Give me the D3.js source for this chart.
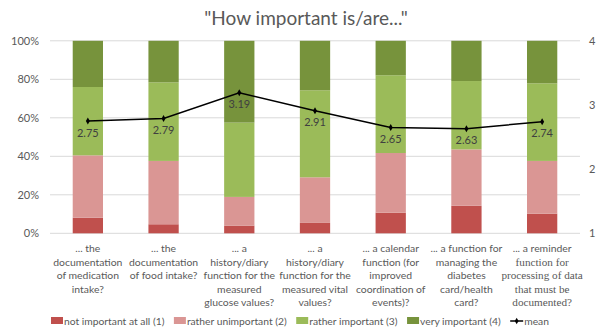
<!DOCTYPE html>
<html><head><meta charset="utf-8">
<script src="https://cdn.jsdelivr.net/npm/d3@7"></script>
<style>body{margin:0;background:#fff}svg{display:block}</style>
</head><body>
<svg id="c" width="601" height="330"></svg>
<script>
const title = '"How important is/are..."';
const categories = [
  ["... the","documentation","of medication","intake?"],
  ["... the","documentation","of food intake?"],
  ["... a","history/diary","function for the","measured","glucose values?"],
  ["... a","history/diary","function for the","measured vital","values?"],
  ["... a calendar","function (for","improved","coordination of","events)?"],
  ["... a function for","managing the","diabetes","card/health","card?"],
  ["... a reminder","function for","processing of data","that must be","documented?"]
];
const seriesNames = ["not important at all (1)","rather unimportant (2)","rather important (3)","very important (4)"];
const notImportant = [8.1, 4.7, 4.0, 5.4, 10.7, 14.3, 10.2];
const ratherUnimportant = [32.4, 32.9, 14.9, 23.7, 31.0, 29.3, 27.4];
const ratherImportant = [35.5, 40.8, 38.6, 45.2, 40.4, 35.5, 40.3];
const veryImportant = [24.0, 21.6, 42.5, 25.7, 17.9, 20.9, 22.1];
const meanValues = [2.75, 2.79, 3.19, 2.91, 2.65, 2.63, 2.74];
const leftTicks = [0, 20, 40, 60, 80, 100];
const rightTicks = [1, 2, 3, 4];
const colors = ["#C0504D","#DA9694","#9BBB59","#77933C"];

const svg = d3.select("#c");
const font = "Lato, 'Open Sans', sans-serif";
const textColor = "#595959";
const pLeft = 50, pRight = 580, pTop = 40.8, pBottom = 233.3;

const x = d3.scaleBand().domain(d3.range(categories.length)).range([pLeft, pRight]).paddingInner(0.6).paddingOuter(0.3);
const y = d3.scaleLinear().domain([0, 100]).range([pBottom, pTop]);
const y2 = d3.scaleLinear().domain([1, 4]).range([pBottom, pTop]);

// title
svg.append("text").attr("x", 306).attr("y", 25).attr("text-anchor", "middle")
  .attr("font-family", font).attr("font-size", 19).attr("fill", textColor).text(title);

// gridlines
svg.append("g").selectAll("line").data(leftTicks).join("line")
  .attr("x1", pLeft).attr("x2", pRight).attr("y1", d => y(d)).attr("y2", d => y(d))
  .attr("stroke", "#D9D9D9").attr("stroke-width", 1);

// left axis
const la = svg.append("g").attr("transform", `translate(${pLeft - 11},0)`)
  .call(d3.axisLeft(y).tickValues(leftTicks).tickFormat(d => d + "%").tickSize(0).tickPadding(0));
la.select(".domain").remove();
la.selectAll("text").attr("font-family", font).attr("font-size", 11).attr("fill", textColor);

// right axis
const ra = svg.append("g").attr("transform", `translate(${pRight + 9},0)`)
  .call(d3.axisRight(y2).tickValues(rightTicks).tickFormat(d3.format("d")).tickSize(0).tickPadding(0));
ra.select(".domain").remove();
ra.selectAll("text").attr("font-family", font).attr("font-size", 11).attr("fill", textColor);

// stacked bars
const rows = categories.map((c, i) => ({i, v0: notImportant[i], v1: ratherUnimportant[i], v2: ratherImportant[i], v3: veryImportant[i]}));
const stack = d3.stack().keys(["v0","v1","v2","v3"])(rows);
svg.append("g").selectAll("g").data(stack).join("g").attr("fill", (d, k) => colors[k])
  .selectAll("rect").data(d => d).join("rect")
  .attr("x", d => x(d.data.i)).attr("width", x.bandwidth())
  .attr("y", d => y(Math.min(100, d[1]))).attr("height", d => y(d[0]) - y(Math.min(100, d[1])));

// mean line
const cx = i => x(i) + x.bandwidth() / 2;
svg.append("path").datum(meanValues)
  .attr("d", d3.line().x((d, i) => cx(i)).y(d => y2(d)))
  .attr("fill", "none").attr("stroke", "#000").attr("stroke-width", 1.5);
svg.append("g").selectAll("path").data(meanValues).join("path")
  .attr("d", d3.symbol().type(d3.symbolDiamond).size(14))
  .attr("transform", (d, i) => `translate(${cx(i)},${y2(d)})`).attr("fill", "#000");
svg.append("g").selectAll("text").data(meanValues).join("text")
  .attr("x", (d, i) => cx(i)).attr("y", d => y2(d) + 15.5).attr("text-anchor", "middle")
  .attr("font-family", font).attr("font-size", 11).attr("fill", "#404040").text(d => d3.format(".2f")(d));

// category labels
const cl = svg.append("g");
categories.forEach((lines, i) => {
  const t = cl.append("text").attr("text-anchor", "middle").attr("fill", textColor);
  lines.forEach((ln, j) => {
    const serif = (i === 6 && j > 0);
    t.append("tspan").attr("x", cx(i)).attr("y", 252 + j * 13.6)
      .attr("font-family", serif ? "'Liberation Serif', 'DejaVu Serif', serif" : font)
      .attr("font-size", serif ? 11.2 : 10.4).text(ln);
  });
});

// legend
const lg = svg.append("g");
let lx = 51;
const ly = 321;
seriesNames.forEach((n, k) => {
  lg.append("rect").attr("x", lx).attr("y", ly - 4).attr("width", 12).attr("height", 7).attr("fill", colors[k]);
  const t = lg.append("text").attr("x", lx + 13).attr("y", ly + 4).attr("font-family", font).attr("font-size", 10.3)
    .attr("fill", textColor).text(n);
  lx += 13 + t.node().getComputedTextLength() + 9.5;
});
lg.append("line").attr("x1", lx).attr("x2", lx + 13).attr("y1", ly).attr("y2", ly).attr("stroke", "#000").attr("stroke-width", 1.5);
lg.append("path").attr("d", d3.symbol().type(d3.symbolDiamond).size(12)).attr("transform", `translate(${lx + 6.5},${ly})`);
lg.append("text").attr("x", lx + 14).attr("y", ly + 4).attr("font-family", font).attr("font-size", 10.3).attr("fill", textColor).text("mean");
</script>
</body></html>
